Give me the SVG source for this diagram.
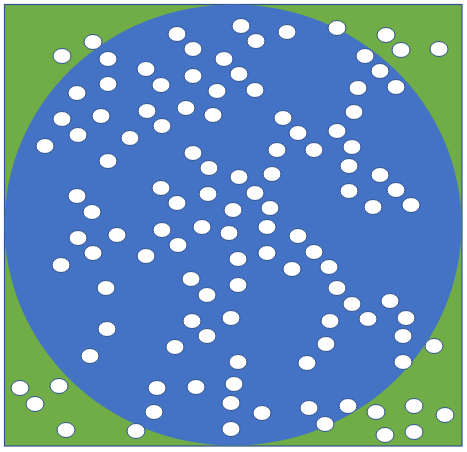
<svg xmlns="http://www.w3.org/2000/svg" width="467" height="452" viewBox="0 0 467 452">
<style>
.bg{fill:#70AD47;stroke:#2F528F;stroke-width:1.2}
.disc{fill:#4472C4}
.d{fill:#FFFFFF;stroke:#2F528F;stroke-width:1}
</style>
<rect class="bg" x="4.5" y="4.5" width="457.5" height="441.5"/>
<ellipse class="disc" cx="233" cy="225" rx="228.5" ry="220.5"/>
<g id="dots">
<ellipse class="d" cx="62" cy="56" rx="9" ry="7.5"/>
<ellipse class="d" cx="93" cy="42" rx="9" ry="7.5"/>
<ellipse class="d" cx="108" cy="59" rx="9" ry="7.5"/>
<ellipse class="d" cx="146" cy="69" rx="9" ry="7.5"/>
<ellipse class="d" cx="108" cy="84" rx="9" ry="7.5"/>
<ellipse class="d" cx="77" cy="93" rx="9" ry="7.5"/>
<ellipse class="d" cx="62" cy="119" rx="9" ry="7.5"/>
<ellipse class="d" cx="101" cy="116" rx="9" ry="7.5"/>
<ellipse class="d" cx="147" cy="111" rx="9" ry="7.5"/>
<ellipse class="d" cx="78" cy="135" rx="9" ry="7.5"/>
<ellipse class="d" cx="130" cy="138" rx="9" ry="7.5"/>
<ellipse class="d" cx="45" cy="146" rx="9" ry="7.5"/>
<ellipse class="d" cx="161" cy="85" rx="9" ry="7.5"/>
<ellipse class="d" cx="162" cy="126" rx="9" ry="7.5"/>
<ellipse class="d" cx="241" cy="26" rx="9" ry="7.5"/>
<ellipse class="d" cx="177" cy="34" rx="9" ry="7.5"/>
<ellipse class="d" cx="256" cy="41" rx="9" ry="7.5"/>
<ellipse class="d" cx="287" cy="32" rx="9" ry="7.5"/>
<ellipse class="d" cx="193" cy="49" rx="9" ry="7.5"/>
<ellipse class="d" cx="224" cy="59" rx="9" ry="7.5"/>
<ellipse class="d" cx="239" cy="74" rx="9" ry="7.5"/>
<ellipse class="d" cx="193" cy="76" rx="9" ry="7.5"/>
<ellipse class="d" cx="217" cy="91" rx="9" ry="7.5"/>
<ellipse class="d" cx="255" cy="90" rx="9" ry="7.5"/>
<ellipse class="d" cx="186" cy="108" rx="9" ry="7.5"/>
<ellipse class="d" cx="213" cy="115" rx="9" ry="7.5"/>
<ellipse class="d" cx="283" cy="118" rx="9" ry="7.5"/>
<ellipse class="d" cx="298" cy="133" rx="9" ry="7.5"/>
<ellipse class="d" cx="277" cy="150" rx="9" ry="7.5"/>
<ellipse class="d" cx="193" cy="153" rx="9" ry="7.5"/>
<ellipse class="d" cx="337" cy="28" rx="9" ry="7.5"/>
<ellipse class="d" cx="386" cy="35" rx="9" ry="7.5"/>
<ellipse class="d" cx="401" cy="50" rx="9" ry="7.5"/>
<ellipse class="d" cx="439" cy="49" rx="9" ry="7.5"/>
<ellipse class="d" cx="365" cy="56" rx="9" ry="7.5"/>
<ellipse class="d" cx="380" cy="71" rx="9" ry="7.5"/>
<ellipse class="d" cx="358" cy="88" rx="9" ry="7.5"/>
<ellipse class="d" cx="396" cy="87" rx="9" ry="7.5"/>
<ellipse class="d" cx="354" cy="112" rx="9" ry="7.5"/>
<ellipse class="d" cx="337" cy="131" rx="9" ry="7.5"/>
<ellipse class="d" cx="352" cy="147" rx="9" ry="7.5"/>
<ellipse class="d" cx="314" cy="150" rx="9" ry="7.5"/>
<ellipse class="d" cx="108" cy="161" rx="9" ry="7.5"/>
<ellipse class="d" cx="77" cy="196" rx="9" ry="7.5"/>
<ellipse class="d" cx="92" cy="212" rx="9" ry="7.5"/>
<ellipse class="d" cx="78" cy="238" rx="9" ry="7.5"/>
<ellipse class="d" cx="117" cy="235" rx="9" ry="7.5"/>
<ellipse class="d" cx="93" cy="253" rx="9" ry="7.5"/>
<ellipse class="d" cx="146" cy="256" rx="9" ry="7.5"/>
<ellipse class="d" cx="61" cy="265" rx="9" ry="7.5"/>
<ellipse class="d" cx="106" cy="288" rx="9" ry="7.5"/>
<ellipse class="d" cx="161" cy="188" rx="9" ry="7.5"/>
<ellipse class="d" cx="162" cy="230" rx="9" ry="7.5"/>
<ellipse class="d" cx="209" cy="168" rx="9" ry="7.5"/>
<ellipse class="d" cx="239" cy="177" rx="9" ry="7.5"/>
<ellipse class="d" cx="272" cy="174" rx="9" ry="7.5"/>
<ellipse class="d" cx="208" cy="194" rx="9" ry="7.5"/>
<ellipse class="d" cx="255" cy="193" rx="9" ry="7.5"/>
<ellipse class="d" cx="177" cy="203" rx="9" ry="7.5"/>
<ellipse class="d" cx="233" cy="210" rx="9" ry="7.5"/>
<ellipse class="d" cx="270" cy="208" rx="9" ry="7.5"/>
<ellipse class="d" cx="202" cy="227" rx="9" ry="7.5"/>
<ellipse class="d" cx="229" cy="233" rx="9" ry="7.5"/>
<ellipse class="d" cx="267" cy="227" rx="9" ry="7.5"/>
<ellipse class="d" cx="298" cy="236" rx="9" ry="7.5"/>
<ellipse class="d" cx="178" cy="245" rx="9" ry="7.5"/>
<ellipse class="d" cx="238" cy="259" rx="9" ry="7.5"/>
<ellipse class="d" cx="267" cy="253" rx="9" ry="7.5"/>
<ellipse class="d" cx="292" cy="269" rx="9" ry="7.5"/>
<ellipse class="d" cx="191" cy="279" rx="9" ry="7.5"/>
<ellipse class="d" cx="238" cy="285" rx="9" ry="7.5"/>
<ellipse class="d" cx="207" cy="295" rx="9" ry="7.5"/>
<ellipse class="d" cx="349" cy="166" rx="9" ry="7.5"/>
<ellipse class="d" cx="380" cy="175" rx="9" ry="7.5"/>
<ellipse class="d" cx="349" cy="191" rx="9" ry="7.5"/>
<ellipse class="d" cx="396" cy="190" rx="9" ry="7.5"/>
<ellipse class="d" cx="373" cy="207" rx="9" ry="7.5"/>
<ellipse class="d" cx="411" cy="205" rx="9" ry="7.5"/>
<ellipse class="d" cx="314" cy="252" rx="9" ry="7.5"/>
<ellipse class="d" cx="329" cy="267" rx="9" ry="7.5"/>
<ellipse class="d" cx="337" cy="288" rx="9" ry="7.5"/>
<ellipse class="d" cx="107" cy="329" rx="9" ry="7.5"/>
<ellipse class="d" cx="90" cy="356" rx="9" ry="7.5"/>
<ellipse class="d" cx="20" cy="388" rx="9" ry="7.5"/>
<ellipse class="d" cx="59" cy="386" rx="9" ry="7.5"/>
<ellipse class="d" cx="35" cy="404" rx="9" ry="7.5"/>
<ellipse class="d" cx="66" cy="430" rx="9" ry="7.5"/>
<ellipse class="d" cx="136" cy="431" rx="9" ry="7.5"/>
<ellipse class="d" cx="157" cy="388" rx="9" ry="7.5"/>
<ellipse class="d" cx="154" cy="412" rx="9" ry="7.5"/>
<ellipse class="d" cx="192" cy="321" rx="9" ry="7.5"/>
<ellipse class="d" cx="231" cy="318" rx="9" ry="7.5"/>
<ellipse class="d" cx="207" cy="336" rx="9" ry="7.5"/>
<ellipse class="d" cx="175" cy="347" rx="9" ry="7.5"/>
<ellipse class="d" cx="238" cy="362" rx="9" ry="7.5"/>
<ellipse class="d" cx="307" cy="363" rx="9" ry="7.5"/>
<ellipse class="d" cx="196" cy="387" rx="9" ry="7.5"/>
<ellipse class="d" cx="234" cy="384" rx="9" ry="7.5"/>
<ellipse class="d" cx="231" cy="403" rx="9" ry="7.5"/>
<ellipse class="d" cx="262" cy="413" rx="9" ry="7.5"/>
<ellipse class="d" cx="231" cy="429" rx="9" ry="7.5"/>
<ellipse class="d" cx="309" cy="408" rx="9" ry="7.5"/>
<ellipse class="d" cx="352" cy="304" rx="9" ry="7.5"/>
<ellipse class="d" cx="390" cy="301" rx="9" ry="7.5"/>
<ellipse class="d" cx="330" cy="321" rx="9" ry="7.5"/>
<ellipse class="d" cx="368" cy="319" rx="9" ry="7.5"/>
<ellipse class="d" cx="406" cy="318" rx="9" ry="7.5"/>
<ellipse class="d" cx="403" cy="336" rx="9" ry="7.5"/>
<ellipse class="d" cx="326" cy="344" rx="9" ry="7.5"/>
<ellipse class="d" cx="434" cy="346" rx="9" ry="7.5"/>
<ellipse class="d" cx="403" cy="362" rx="9" ry="7.5"/>
<ellipse class="d" cx="348" cy="406" rx="9" ry="7.5"/>
<ellipse class="d" cx="376" cy="412" rx="9" ry="7.5"/>
<ellipse class="d" cx="414" cy="406" rx="9" ry="7.5"/>
<ellipse class="d" cx="445" cy="415" rx="9" ry="7.5"/>
<ellipse class="d" cx="325" cy="424" rx="9" ry="7.5"/>
<ellipse class="d" cx="385" cy="435" rx="9" ry="7.5"/>
<ellipse class="d" cx="414" cy="432" rx="9" ry="7.5"/>
</g>
</svg>
